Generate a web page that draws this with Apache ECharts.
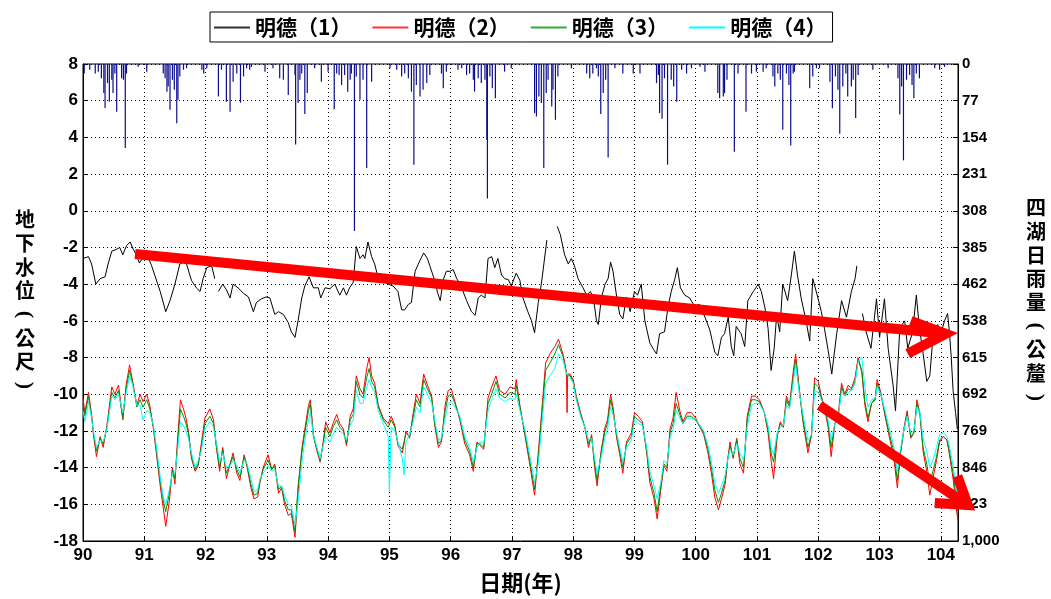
<!DOCTYPE html>
<html>
<head>
<meta charset="utf-8">
<title>明德 地下水位與四湖日雨量</title>
<script src="https://cdn.jsdelivr.net/npm/echarts@6/dist/echarts.min.js"></script>
<style>
  html, body { margin: 0; padding: 0; background: #fff; }
  #chart { width: 1051px; height: 599px; }
</style>
</head>
<body>
<div id="chart"></div>
<script>
// 明德(1) 地下水位 [年, 公尺]（null 表示缺測）
const level1 = [
  [90.00,-2.6],[90.09,-2.5],[90.14,-2.9],[90.21,-4.0],[90.28,-3.7],[90.36,-3.6],[90.41,-2.9],[90.47,-2.2],[90.55,-2.1],[90.60,-2.0],
  [90.65,-2.4],[90.71,-1.9],[90.77,-1.7],[90.82,-2.1],[90.87,-2.4],[90.92,-2.85],[90.97,-2.6],[91.02,-2.3],[91.07,-2.6],[91.12,-3.0],
  [91.17,-3.5],[91.26,-4.4],[91.35,-5.5],[91.42,-4.9],[91.50,-4.0],[91.58,-2.9],[91.64,-2.8],[91.69,-2.9],[91.77,-3.8],[91.85,-4.2],
  [91.91,-4.4],[91.96,-3.7],[92.02,-3.1],[92.10,-3.0],[92.15,-3.7],[92.18,null],[92.21,-4.4],[92.28,-4.0],[92.34,-4.3],[92.40,-4.75],
  [92.45,-4.0],[92.53,-4.2],[92.62,-4.5],[92.70,-4.7],[92.78,-5.5],[92.83,-5.0],[92.91,-4.8],[92.99,-4.7],[93.05,-4.75],[93.13,-5.65],
  [93.19,-5.5],[93.27,-5.65],[93.35,-6.1],[93.40,-6.6],[93.46,-6.9],[93.51,-6.0],[93.57,-4.75],[93.62,-4.1],[93.69,-3.6],[93.76,-4.2],
  [93.84,-4.2],[93.88,-4.75],[93.95,-4.2],[94.03,-4.25],[94.11,-4.0],[94.19,-4.6],[94.25,-4.2],[94.30,-4.6],[94.35,-4.2],[94.41,-3.9],
  [94.46,-1.95],[94.52,-2.6],[94.57,-2.4],[94.60,-2.6],[94.65,-1.7],[94.71,-2.5],[94.76,-2.9],[94.82,-3.7],[94.90,-3.75],[94.98,-4.0],
  [95.06,-4.1],[95.14,-4.4],[95.20,-5.4],[95.25,-5.4],[95.31,-5.1],[95.36,-5.0],[95.42,-3.3],[95.50,-2.7],[95.56,-2.3],[95.62,-2.6],
  [95.66,-3.0],[95.74,-3.8],[95.79,-4.5],[95.83,-4.9],[95.88,-3.75],[95.93,-3.3],[95.99,-3.3],[96.04,-3.2],[96.10,-3.7],[96.18,-4.2],
  [96.26,-4.9],[96.34,-5.5],[96.40,-5.7],[96.45,-4.75],[96.50,-4.6],[96.56,-4.75],[96.61,-2.6],[96.67,-2.5],[96.72,-3.1],[96.77,-2.6],
  [96.83,-3.5],[96.88,-3.7],[96.94,-3.75],[96.99,-4.1],[97.07,-3.4],[97.13,-3.8],[97.18,-4.75],[97.26,-5.5],[97.32,-6.0],[97.37,-6.65],
  [97.43,-5.0],[97.48,-4.0],[97.57,-1.6],[97.65,null],[97.74,-0.85],[97.79,-1.3],[97.84,-2.1],[97.86,-2.4],[97.92,-2.9],[97.97,-2.6],
  [98.02,-3.0],[98.08,-3.7],[98.16,-4.2],[98.22,-4.6],[98.28,-4.4],[98.33,-4.75],[98.38,-6.0],[98.41,-6.2],[98.46,-4.75],[98.52,-4.0],
  [98.57,-3.7],[98.61,-2.8],[98.65,-3.3],[98.71,-4.7],[98.76,-5.65],[98.81,-5.9],[98.87,-4.7],[98.93,-5.5],[99.00,-4.4],[99.05,-4.6],
  [99.11,-4.0],[99.17,-6.0],[99.25,-7.2],[99.31,-7.55],[99.36,-7.8],[99.41,-6.7],[99.49,-6.6],[99.55,-5.2],[99.60,-4.4],[99.66,-3.7],
  [99.70,-3.1],[99.75,-4.2],[99.82,-4.6],[99.90,-4.75],[99.98,-5.2],[100.06,-5.1],[100.15,-5.8],[100.23,-6.5],[100.31,-7.7],[100.36,-7.9],
  [100.42,-6.9],[100.47,-6.7],[100.53,-5.8],[100.58,-7.4],[100.62,-7.9],[100.66,-6.3],[100.74,-6.7],[100.80,-7.4],[100.85,-4.9],[100.94,-4.4],
  [101.02,-4.0],[101.07,-4.4],[101.13,-5.3],[101.18,-6.4],[101.23,-8.7],[101.28,-7.5],[101.32,-5.7],[101.37,-6.6],[101.42,-4.0],[101.50,-4.9],
  [101.56,-3.5],[101.61,-2.2],[101.66,-3.5],[101.72,-4.75],[101.80,-6.0],[101.86,-7.1],[101.91,-3.7],[101.99,-4.7],[102.05,-5.5],[102.10,-6.4],
  [102.16,-7.6],[102.22,-8.9],[102.30,-6.7],[102.38,-4.9],[102.46,-5.8],[102.54,-4.4],[102.60,-3.7],[102.63,-3.0],[102.67,null],[102.72,-5.6],
  [102.78,-6.6],[102.86,-7.5],[102.95,-4.8],[103.00,-6.9],[103.08,-4.8],[103.14,-7.5],[103.22,-9.5],[103.26,-10.9],[103.33,-6.4],[103.41,-6.0],
  [103.46,-7.5],[103.54,-6.6],[103.60,-4.6],[103.65,-6.4],[103.70,-7.5],[103.77,-9.3],[103.82,-9.0],[103.87,-6.9],[103.95,-6.2],[104.00,-6.7],
  [104.06,-6.0],[104.11,-5.6],[104.14,-6.6],[104.17,-8.0],[104.20,-9.8],[104.24,-11.0],[104.27,-11.9]
];

// 明德(2)(3)(4) 共用的時間軸 [年]
const years234 = [
  90.00,90.03,90.09,90.14,90.17,90.22,90.28,90.33,90.39,90.47,
  90.52,90.58,90.65,90.70,90.76,90.81,90.88,90.93,90.98,91.04,
  91.09,91.15,91.20,91.26,91.31,91.35,91.41,91.46,91.50,91.54,
  91.59,91.64,91.68,91.72,91.77,91.83,91.88,91.93,91.99,92.07,
  92.13,92.18,92.23,92.28,92.34,92.40,92.45,92.51,92.56,92.63,
  92.68,92.74,92.79,92.85,92.89,92.94,93.02,93.08,93.13,93.19,
  93.24,93.29,93.35,93.40,93.46,93.51,93.57,93.62,93.68,93.71,
  93.76,93.81,93.87,93.92,93.96,94.03,94.08,94.14,94.19,94.25,
  94.30,94.36,94.41,94.46,94.52,94.57,94.63,94.67,94.71,94.76,
  94.82,94.90,94.98,95.00,95.03,95.09,95.14,95.21,95.24,95.27,
  95.33,95.39,95.44,95.50,95.56,95.62,95.69,95.74,95.80,95.85,
  95.91,95.96,96.01,96.07,96.15,96.23,96.31,96.37,96.43,96.48,
  96.54,96.61,96.67,96.74,96.80,96.89,96.97,97.05,97.07,97.13,
  97.21,97.29,97.37,97.43,97.48,97.55,97.62,97.70,97.76,97.84,
  97.89,97.90,97.91,97.95,98.00,98.05,98.12,98.19,98.25,98.30,
  98.35,98.39,98.46,98.52,98.56,98.61,98.65,98.71,98.76,98.81,
  98.87,98.95,99.00,99.06,99.13,99.20,99.25,99.32,99.37,99.43,
  99.48,99.53,99.58,99.63,99.68,99.74,99.79,99.86,99.93,100.00,
  100.07,100.13,100.20,100.26,100.31,100.37,100.42,100.48,100.52,100.56,
  100.61,100.67,100.72,100.78,100.84,100.91,100.97,101.04,101.12,101.18,
  101.23,101.27,101.33,101.38,101.43,101.48,101.53,101.59,101.63,101.69,
  101.75,101.83,101.89,101.94,102.00,102.05,102.10,102.16,102.21,102.27,
  102.32,102.38,102.43,102.49,102.54,102.60,102.65,102.71,102.76,102.81,
  102.87,102.93,102.96,103.02,103.09,103.17,103.23,103.29,103.34,103.40,
  103.45,103.51,103.56,103.61,103.66,103.71,103.77,103.82,103.87,103.93,
  103.98,104.04,104.10,104.14,104.20,104.25,104.28
];

// 明德(2) 地下水位 [公尺]
const level2 = [
  -10.2,-11.0,-9.9,-11.1,-12.2,-13.4,-12.3,-12.9,-11.7,-9.6,
  -10.0,-9.5,-11.4,-9.6,-8.4,-9.3,-10.6,-10.0,-10.4,-10.0,
  -10.6,-11.9,-13.3,-15.0,-16.2,-17.2,-15.8,-14.0,-14.9,-12.6,
  -10.3,-10.8,-11.3,-12.0,-13.5,-14.2,-13.9,-12.7,-11.3,-10.8,
  -11.4,-13.0,-14.2,-12.9,-14.6,-13.8,-13.2,-14.3,-14.7,-13.3,
  -14.0,-15.1,-15.7,-15.6,-14.8,-14.0,-13.3,-14.1,-13.8,-15.4,
  -15.1,-16.0,-16.6,-16.5,-17.8,-15.3,-13.0,-11.9,-10.6,-10.3,
  -12.2,-13.0,-13.7,-12.6,-11.5,-12.1,-11.6,-11.1,-11.6,-11.9,
  -12.8,-11.2,-10.8,-9.0,-9.7,-10.0,-8.6,-8.0,-9.0,-9.4,
  -10.6,-11.3,-11.6,-11.5,-11.2,-11.7,-12.8,-13.2,-12.7,-12.0,
  -12.4,-11.0,-10.0,-10.5,-8.9,-9.5,-10.1,-11.7,-12.9,-12.6,
  -10.6,-9.8,-9.7,-10.4,-11.4,-12.7,-13.3,-14.2,-12.6,-12.8,
  -13.0,-10.2,-9.6,-9.0,-9.8,-10.0,-9.6,-9.7,-9.2,-10.6,
  -12.2,-13.8,-15.5,-13.2,-11.2,-8.3,-7.8,-7.4,-7.0,-7.9,
  -8.8,-11.0,-8.9,-8.9,-9.2,-10.1,-11.0,-11.8,-12.9,-12.2,
  -14.0,-15.0,-13.0,-11.8,-11.4,-10.0,-10.7,-12.4,-13.3,-14.3,
  -12.6,-12.1,-11.0,-11.2,-11.5,-13.2,-14.8,-15.7,-16.8,-15.2,
  -13.9,-14.2,-11.9,-11.3,-9.9,-10.9,-11.5,-11.0,-11.0,-11.3,
  -11.8,-12.2,-13.2,-14.4,-15.6,-16.3,-15.7,-14.9,-13.6,-12.6,
  -13.5,-12.4,-13.8,-14.3,-11.2,-10.1,-10.1,-10.3,-11.0,-12.1,
  -13.6,-14.6,-12.3,-11.5,-11.8,-10.1,-10.6,-8.8,-7.8,-9.7,
  -11.5,-13.2,-12.2,-9.1,-9.3,-10.1,-10.7,-11.8,-13.4,-11.6,
  -11.3,-9.4,-10.0,-9.5,-9.7,-9.1,-8.0,-8.8,-10.6,-11.5,
  -10.5,-10.2,-9.2,-9.9,-11.2,-12.5,-13.4,-15.1,-13.3,-11.8,
  -10.9,-12.4,-12.1,-10.3,-11.1,-13.1,-14.2,-15.5,-14.6,-13.6,
  -12.6,-12.3,-12.5,-13.3,-14.6,-16.2,-16.9
];

// 明德(3) 地下水位 [公尺]
const level3 = [
  -10.5,-11.2,-10.1,-11.2,-12.1,-13.1,-12.4,-12.7,-11.8,-9.9,
  -10.2,-9.8,-11.3,-9.8,-8.7,-9.4,-10.7,-10.3,-10.7,-10.3,
  -10.8,-11.8,-13.1,-14.7,-15.8,-16.4,-15.4,-14.1,-14.6,-12.9,
  -10.8,-11.2,-11.6,-12.1,-13.4,-14.1,-13.8,-12.9,-11.6,-11.2,
  -11.6,-12.9,-14.0,-13.0,-14.3,-13.8,-13.4,-14.1,-14.5,-13.4,
  -13.9,-14.9,-15.5,-15.4,-14.7,-14.1,-13.6,-14.1,-13.9,-15.2,
  -15.0,-15.8,-16.3,-16.3,-17.5,-15.0,-13.2,-12.1,-10.9,-10.5,
  -12.3,-12.9,-13.6,-12.7,-11.8,-12.3,-11.8,-11.4,-11.8,-12.0,
  -12.7,-11.4,-11.1,-9.3,-10.0,-10.2,-9.1,-8.6,-9.3,-9.6,
  -10.7,-11.4,-11.8,-11.7,-11.4,-11.8,-12.7,-13.0,-12.6,-12.1,
  -12.3,-11.2,-10.3,-10.7,-9.2,-9.7,-10.2,-11.6,-12.7,-12.5,
  -10.9,-10.1,-10.0,-10.5,-11.3,-12.5,-13.1,-14.0,-12.7,-12.7,
  -12.9,-10.5,-10.0,-9.3,-10.0,-10.2,-9.9,-10.0,-9.5,-10.7,
  -12.1,-13.6,-15.2,-13.4,-11.5,-8.7,-8.3,-7.8,-7.3,-8.0,
  -8.9,-8.9,-8.9,-9.0,-9.3,-10.2,-11.1,-11.8,-12.7,-12.3,
  -13.8,-14.7,-13.1,-12.0,-11.6,-10.3,-10.9,-12.3,-13.1,-14.0,
  -12.7,-12.3,-11.2,-11.4,-11.6,-13.1,-14.5,-15.4,-16.4,-15.0,
  -13.8,-14.0,-12.1,-11.6,-10.5,-11.1,-11.6,-11.2,-11.2,-11.4,
  -11.8,-12.1,-13.0,-14.1,-15.2,-15.9,-15.4,-14.7,-13.6,-12.8,
  -13.4,-12.5,-13.5,-14.0,-11.4,-10.3,-10.3,-10.4,-11.0,-11.9,
  -13.2,-13.7,-12.2,-11.6,-11.8,-10.3,-10.7,-9.1,-8.1,-9.8,
  -11.4,-12.9,-12.2,-9.4,-9.6,-10.2,-10.7,-11.6,-12.9,-11.6,
  -11.4,-9.6,-10.1,-9.7,-9.8,-9.3,-8.1,-8.7,-10.4,-11.3,
  -10.5,-10.3,-9.4,-10.0,-11.1,-12.3,-13.1,-14.7,-13.2,-11.9,
  -11.1,-12.3,-12.1,-10.5,-11.1,-12.9,-13.8,-14.9,-14.2,-13.4,
  -12.5,-12.3,-12.5,-13.1,-14.3,-15.6,-16.4
];

// 明德(4) 地下水位 [公尺]
const level4 = [
  -10.9,-11.5,-10.4,-11.3,-12.0,-12.9,-12.5,-12.6,-11.9,-10.1,
  -10.3,-10.0,-11.0,-10.0,-9.0,-9.5,-10.6,-10.6,-11.4,-10.9,
  -11.0,-11.7,-12.9,-14.5,-15.6,-16.0,-15.2,-14.3,-14.3,-13.2,
  -11.5,-11.7,-12.0,-12.4,-13.2,-14.0,-13.6,-13.1,-11.9,-11.5,
  -11.8,-12.7,-13.7,-13.2,-14.0,-13.9,-13.6,-13.9,-14.3,-13.6,
  -13.8,-14.6,-15.3,-15.2,-14.6,-14.3,-13.9,-14.2,-14.1,-15.0,
  -15.0,-15.5,-16.0,-16.1,-17.1,-15.9,-13.8,-12.5,-11.4,-11.0,
  -12.2,-12.8,-13.5,-12.8,-12.3,-12.6,-12.2,-11.8,-12.0,-12.2,
  -12.5,-11.7,-11.4,-9.8,-10.5,-10.5,-9.6,-9.2,-9.6,-9.9,
  -10.9,-11.6,-12.3,-15.3,-11.8,-12.0,-12.6,-13.5,-14.4,-12.6,
  -12.2,-11.5,-10.7,-11.0,-9.6,-10.0,-10.5,-11.4,-12.5,-12.4,
  -11.3,-10.5,-10.4,-10.7,-11.2,-12.3,-12.9,-13.7,-12.9,-12.6,
  -12.7,-10.9,-10.3,-9.7,-10.2,-10.4,-10.2,-10.3,-10.0,-10.9,
  -11.9,-13.3,-14.8,-13.8,-12.0,-9.4,-9.0,-8.6,-7.8,-8.2,
  -8.9,-8.9,-8.9,-9.1,-9.4,-10.3,-11.2,-11.8,-12.5,-12.4,
  -13.5,-14.3,-13.4,-12.3,-11.9,-10.7,-11.1,-12.1,-12.9,-13.7,
  -12.9,-12.5,-11.4,-11.6,-11.7,-12.9,-14.2,-15.0,-15.7,-14.8,
  -13.6,-13.8,-12.4,-11.9,-10.9,-11.3,-11.6,-11.3,-11.3,-11.4,
  -11.7,-12.0,-12.8,-13.8,-14.8,-15.4,-15.0,-14.4,-13.6,-13.0,
  -13.3,-12.7,-13.2,-13.6,-11.8,-10.6,-10.5,-10.5,-11.0,-11.7,
  -12.9,-13.3,-12.1,-11.8,-11.7,-10.6,-10.8,-9.4,-8.4,-9.9,
  -11.1,-12.5,-12.2,-9.8,-9.9,-10.3,-10.6,-11.4,-12.5,-11.6,
  -11.4,-9.8,-10.1,-9.9,-9.8,-9.4,-8.2,-8.0,-9.6,-10.7,
  -10.3,-10.2,-9.6,-10.0,-10.9,-12.0,-12.8,-14.2,-13.0,-11.9,
  -11.2,-12.1,-12.0,-10.7,-11.0,-12.4,-13.1,-14.0,-13.6,-12.9,
  -12.2,-12.1,-12.3,-12.8,-13.9,-15.1,-16.0
];

// 四湖日雨量 [年, 公釐]
const rainfall = [
  [90.02,20],[90.11,12],[90.20,20],[90.25,16],[90.30,30],[90.34,61],[90.36,92],[90.40,40],[90.43,79],[90.47,33],
  [90.49,61],[90.52,20],[90.55,100],[90.63,30],[90.66,33],[90.69,176],[90.71,20],[90.90,6],[91.04,16],[91.31,20],
  [91.34,30],[91.37,58],[91.39,47],[91.42,96],[91.46,33],[91.49,54],[91.53,124],[91.55,75],[91.58,26],[91.64,12],
  [91.69,9],[91.94,12],[91.97,20],[92.02,9],[92.21,68],[92.26,12],[92.34,79],[92.40,100],[92.45,37],[92.51,20],
  [92.57,81],[92.62,26],[92.67,9],[92.72,12],[92.75,6],[92.97,16],[93.10,9],[93.21,30],[93.27,33],[93.35,65],
  [93.46,23],[93.47,169],[93.51,82],[93.54,33],[93.57,20],[93.62,105],[93.66,61],[93.78,9],[93.89,37],[94.00,16],
  [94.10,95],[94.14,20],[94.18,23],[94.22,44],[94.27,23],[94.32,58],[94.36,33],[94.38,20],[94.43,350],[94.46,26],
  [94.52,75],[94.57,33],[94.63,218],[94.71,37],[95.01,9],[95.12,12],[95.20,26],[95.25,20],[95.31,30],[95.36,58],
  [95.40,211],[95.44,44],[95.50,68],[95.55,54],[95.61,40],[95.66,23],[95.85,20],[95.88,51],[95.93,16],[96.12,12],
  [96.18,9],[96.26,23],[96.31,20],[96.37,33],[96.39,58],[96.45,30],[96.50,40],[96.56,33],[96.59,159],[96.60,282],
  [96.64,26],[96.68,51],[96.73,72],[96.88,16],[96.99,9],[97.37,103],[97.40,110],[97.44,68],[97.48,82],[97.52,218],
  [97.56,61],[97.59,33],[97.65,89],[97.67,54],[97.71,117],[97.75,26],[97.97,9],[98.22,20],[98.27,30],[98.32,20],
  [98.38,9],[98.41,26],[98.45,105],[98.49,61],[98.53,33],[98.57,196],[98.68,9],[98.81,20],[98.98,20],[99.09,20],
  [99.36,40],[99.39,23],[99.41,103],[99.45,115],[99.49,30],[99.54,211],[99.60,33],[99.64,47],[99.69,79],[99.77,12],
  [99.85,20],[99.93,9],[100.07,6],[100.15,16],[100.36,61],[100.39,72],[100.45,68],[100.47,61],[100.51,33],[100.63,184],
  [100.69,20],[100.82,100],[100.91,20],[100.99,16],[101.10,16],[101.15,9],[101.26,26],[101.29,47],[101.34,20],[101.38,33],
  [101.42,138],[101.48,20],[101.52,44],[101.55,171],[101.59,20],[101.61,16],[101.86,51],[101.91,26],[101.97,9],[102.02,9],
  [102.19,37],[102.23,93],[102.28,26],[102.32,54],[102.35,146],[102.40,47],[102.45,20],[102.48,68],[102.54,47],[102.57,33],
  [102.61,113],[102.65,23],[102.89,12],[103.14,9],[103.30,30],[103.33,106],[103.36,47],[103.39,202],[103.44,33],[103.49,23],
  [103.53,44],[103.56,72],[103.60,20],[103.65,30],[103.90,9],[103.98,12],[104.06,6]
];

// 刻度設定
const levelTicks = { min: -18, max: 8, step: 2 };
const rainTicks = { min: 0, max: 1000, count: 13 };
const yearTicks = { min: 90, max: 104.28, step: 1 };

// 直排軸標題
const leftTitle = ['地', '下', '水', '位', '(', '公', '尺', ')'];
const rightTitle = ['四', '湖', '日', '雨', '量', '(', '公', '釐', ')'];

// 趨勢箭頭（資料座標）：起點、箭尖、兩側箭翼
const trendArrows = [
  { from: [90.85, -2.36], tip: [104.08, -6.70], wingA: [103.51, -6.00], wingB: [103.46, -7.79] },
  { from: [102.02, -10.61], tip: [104.44, -16.04], wingA: [104.27, -14.46], wingB: [103.90, -15.93] }
];

const pair = (ys, vs) => ys.map((t, i) => [t, vs[i]]);

const chart = echarts.init(document.getElementById('chart'), null, { renderer: 'canvas' });

const dotted = { color: '#000', width: 1, type: [1, 3] };
const labelFont = { fontFamily: 'Liberation Sans, Arial, sans-serif', fontWeight: 'bold', color: '#000' };
const cjk = 'Noto Sans CJK TC, Noto Sans CJK SC, sans-serif';

chart.setOption({
  animation: false,
  backgroundColor: '#fff',
  grid: { left: 83, right: 93, top: 64, bottom: 56, show: true, borderColor: '#000', borderWidth: 1, backgroundColor: 'transparent' },
  legend: {
    data: ['明德(1)', '明德(2)', '明德(3)', '明德(4)'],
    formatter: n => n.replace('(', '（').replace(')', '）'),
    left: 210, top: 12,
    backgroundColor: '#fff',
    borderColor: '#000', borderWidth: 1,
    padding: [5, 6, 4, 4],
    itemGap: 21, itemWidth: 36, itemHeight: 2,
    icon: 'rect',
    textStyle: { fontFamily: cjk, fontWeight: 'bold', fontSize: 21, color: '#000' }
  },
  xAxis: {
    type: 'value',
    min: yearTicks.min, max: yearTicks.max, interval: yearTicks.step,
    name: '日期(年)', nameLocation: 'middle', nameGap: 31,
    nameTextStyle: { fontFamily: cjk, fontWeight: 'bold', fontSize: 22, color: '#000' },
    axisLine: { onZero: false, lineStyle: { color: '#000', width: 1 } },
    axisTick: { inside: true, length: 5, lineStyle: { color: '#000' } },
    axisLabel: Object.assign({ fontSize: 17, margin: 6, formatter: v => String(Math.round(v)) }, labelFont),
    splitLine: { show: true, lineStyle: dotted }
  },
  yAxis: [
    {
      type: 'value',
      min: levelTicks.min, max: levelTicks.max, interval: levelTicks.step,
      axisLine: { onZero: false, lineStyle: { color: '#000', width: 1 } },
      axisTick: { inside: true, length: 5, lineStyle: { color: '#000' } },
      axisLabel: Object.assign({ fontSize: 17, margin: 5 }, labelFont),
      splitLine: { show: true, lineStyle: dotted }
    },
    {
      type: 'value',
      position: 'right',
      inverse: true,
      min: rainTicks.min, max: rainTicks.max, interval: (rainTicks.max - rainTicks.min) / rainTicks.count,
      axisLine: { show: true, onZero: false, lineStyle: { color: '#000', width: 1 } },
      axisTick: { show: true, inside: true, length: 5, lineStyle: { color: '#000' } },
      axisLabel: Object.assign({ fontSize: 15, margin: 4, formatter: v => Math.round(v).toLocaleString('en-US') }, labelFont),
      splitLine: { show: false }
    }
  ],
  series: [
    {
      name: '四湖日雨量',
      type: 'bar',
      yAxisIndex: 1,
      data: rainfall,
      barWidth: 1.2,
      itemStyle: { color: '#0c0c8e' },
      silent: true
    },
    {
      name: '明德(1)', type: 'line', data: level1, showSymbol: false, connectNulls: false,
      lineStyle: { color: '#000', width: 1 }, itemStyle: { color: '#333' }
    },
    {
      name: '明德(2)', type: 'line', data: pair(years234, level2), showSymbol: false,
      lineStyle: { color: '#ff0000', width: 1 }, itemStyle: { color: '#ff3333' }
    },
    {
      name: '明德(3)', type: 'line', data: pair(years234, level3), showSymbol: false,
      lineStyle: { color: '#009000', width: 1 }, itemStyle: { color: '#33aa33' }
    },
    {
      name: '明德(4)', type: 'line', data: pair(years234, level4), showSymbol: false,
      lineStyle: { color: '#00ffff', width: 1 }, itemStyle: { color: '#00ffff' }
    }
  ]
});

const elements = [];

// 趨勢箭頭：由資料座標換算成畫面位置後繪製
const toPx = p => chart.convertToPixel({ xAxisIndex: 0, yAxisIndex: 0 }, p);
const arrowStyle = { stroke: '#ff0000', lineWidth: 10, lineCap: 'butt', lineJoin: 'miter', fill: null };
trendArrows.forEach(a => {
  const f = toPx(a.from), t = toPx(a.tip), wa = toPx(a.wingA), wb = toPx(a.wingB);
  elements.push({ type: 'line', z: 100, silent: true, shape: { x1: f[0], y1: f[1], x2: t[0], y2: t[1] }, style: arrowStyle });
  elements.push({ type: 'polyline', z: 100, silent: true, shape: { points: [wa, t, wb] }, style: arrowStyle });
});

// 直排軸標題：逐字置中排列，括號轉 90 度成直排括號
const rect = chart.getModel().getComponent('grid', 0).coordinateSystem.getRect();
const midY = rect.y + rect.height / 2;
function verticalTitle(chars, cx, step) {
  const first = midY - (chars.length - 1) / 2 * step;
  chars.forEach((ch, i) => {
    const isParen = ch === '(' || ch === ')';
    elements.push({
      type: 'text', silent: true,
      x: cx, y: first + i * step,
      rotation: isParen ? -Math.PI / 2 : 0,
      style: {
        text: ch, align: 'center', verticalAlign: 'middle',
        font: isParen ? 'bold 22px Liberation Serif, serif' : 'bold 20px ' + cjk,
        fill: '#000'
      }
    });
  });
}
verticalTitle(leftTitle, 25, 23.7);
verticalTitle(rightTitle, 1036, 23.7);

chart.setOption({ graphic: elements });
</script>
</body>
</html>
